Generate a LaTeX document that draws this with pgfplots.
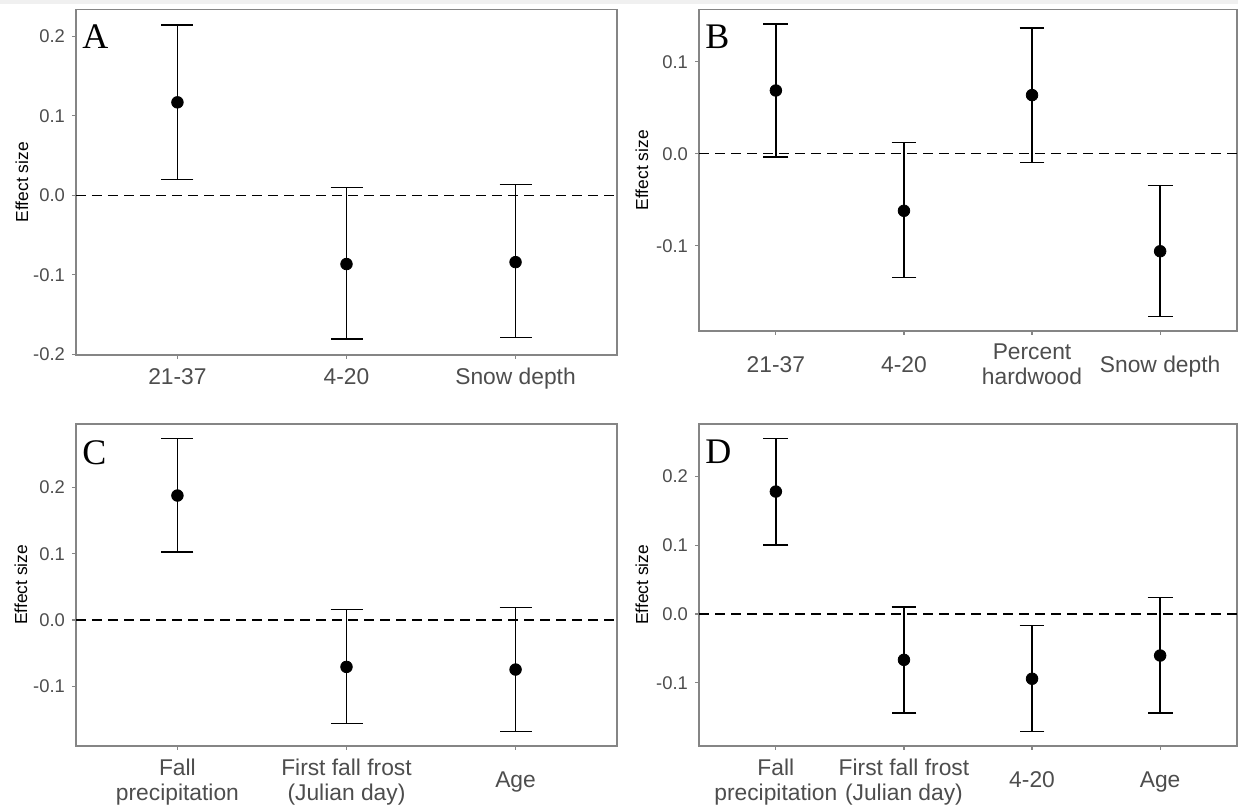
\documentclass[border=0pt]{standalone}
\usepackage{fontspec}
\setmainfont{Liberation Sans}
\newfontfamily\seriffont{Liberation Serif}
\usepackage{pgfplots}
\pgfplotsset{compat=1.18}
\usepackage{pgfplotstable}
\definecolor{bordergray}{HTML}{858585}
\definecolor{tickgray}{HTML}{4D4D4D}

\pgfplotstableread{
x y lo hi
1 0.117 0.020 0.214
2 -0.0864 -0.181 0.010
3 -0.084 -0.179 0.0138
}\dataA
\pgfplotstableread{
x y lo hi
1 0.0688 -0.0036 0.141
2 -0.062 -0.1344 0.0123
3 0.0638 -0.0094 0.137
4 -0.106 -0.1768 -0.0344
}\dataB
\pgfplotstableread{
x y lo hi
1 0.188 0.1025 0.274
2 -0.0709 -0.1563 0.0161
3 -0.0749 -0.1683 0.0191
}\dataC
\pgfplotstableread{
x y lo hi
1 0.178 0.100 0.255
2 -0.0668 -0.1437 0.0102
3 -0.0943 -0.1708 -0.0169
4 -0.0605 -0.1437 0.0237
}\dataD

\pgfplotsset{
  panel/.style={
    scale only axis, anchor=south west,
    axis line style={draw=bordergray, line width=0.6pt},
    tick style={draw=bordergray, line width=0.6pt},
    tick align=outside, major tick length=2pt, tick pos=left,
    minor tick num=0,
    yticklabel style={font=\fontsize{9.2}{10}\selectfont, text=tickgray},
    xticklabel style={font=\fontsize{11.4}{11.5}\selectfont, text=tickgray, align=center, anchor=center},
    ylabel={Effect size},
    ylabel style={font=\fontsize{8.7}{10}\selectfont, anchor=center},
  },
}
\tikzset{letter/.style={anchor=north west, inner sep=0pt, font=\seriffont\fontsize{18}{18}\selectfont}}
\newcommand{\ebars}[2]{%
  \addplot[black, line width=0.7pt, dash pattern=on 5pt off 3pt, forget plot] coordinates {(0.4,0) (#2,0)};
  \addplot[black, only marks, mark=*, mark size=2.9pt, mark options={fill=black, draw=black},
    error bars/y dir=both, error bars/y explicit,
    error bars/error mark=-,
    error bars/error bar style={line width=0.8pt, black},
    error bars/error mark options={rotate=90, black, line width=0.8pt, mark size=#1}]
    table[x=x, y=y, y error plus expr=\thisrow{hi}-\thisrow{y}, y error minus expr=\thisrow{y}-\thisrow{lo}]}

\begin{document}
\begin{tikzpicture}
\useasboundingbox (0,0) rectangle (619pt,403.5pt);
\fill[gray!12] (0,401.5pt) rectangle (619pt,403.5pt);

% Panel A
\begin{axis}[panel, at={(38pt,226pt)}, width=270.5pt, height=172.75pt,
  xmin=0.4, xmax=3.6, ymin=-0.2008, ymax=0.2338,
  xtick={1,2,3}, xticklabels={\strut 21-37, \strut 4-20, \strut Snow depth},
  xticklabel style={yshift=-10.5pt},
  ytick={-0.2,-0.1,0,0.1,0.2}, yticklabels={-0.2,-0.1,0.0,0.1,0.2},
  ylabel style={at={(axis description cs:-0.100,0.5)}}]
\ebars{8pt}{3.6}{\dataA};
\node[letter, xshift=3pt, yshift=-7.5pt] at (rel axis cs:0,1) {A};
\end{axis}

% Panel B
\begin{axis}[panel, at={(349.5pt,238pt)}, width=269pt, height=160.75pt,
  xmin=0.4, xmax=4.6, ymin=-0.1927, ymax=0.1569,
  xtick={1,2,3,4}, xticklabels={\strut 21-37, \strut 4-20, {\strut Percent\\\strut hardwood}, \strut Snow depth},
  xticklabel style={yshift=-16.3pt},
  ytick={-0.1,0,0.1}, yticklabels={-0.1,0.0,0.1},
  ylabel style={at={(axis description cs:-0.106,0.5)}}]
\ebars{6.2pt}{4.6}{\dataB};
\node[letter, xshift=3pt, yshift=-7.5pt] at (rel axis cs:0,1) {B};
\end{axis}

% Panel C
\begin{axis}[panel, at={(38pt,30.5pt)}, width=270.5pt, height=161pt,
  xmin=0.4, xmax=3.6, ymin=-0.1904, ymax=0.2961,
  xtick={1,2,3}, xticklabels={{\strut Fall\\\strut precipitation}, {\strut First fall frost\\\strut (Julian day)}, \strut Age},
  xticklabel style={yshift=-16.5pt},
  ytick={-0.1,0,0.1,0.2}, yticklabels={-0.1,0.0,0.1,0.2},
  ylabel style={at={(axis description cs:-0.102,0.5)}}]
\ebars{8pt}{3.6}{\dataC};
\node[letter, xshift=3pt, yshift=-8pt] at (rel axis cs:0,1) {C};
\end{axis}

% Panel D
\begin{axis}[panel, at={(349.5pt,30.5pt)}, width=269pt, height=161pt,
  xmin=0.4, xmax=4.6, ymin=-0.1921, ymax=0.2763,
  xtick={1,2,3,4}, xticklabels={{\strut Fall\\\strut precipitation}, {\strut First fall frost\\\strut (Julian day)}, \strut 4-20, \strut Age},
  xticklabel style={yshift=-16.5pt},
  ytick={-0.1,0,0.1,0.2}, yticklabels={-0.1,0.0,0.1,0.2},
  ylabel style={at={(axis description cs:-0.106,0.5)}}]
\ebars{6.2pt}{4.6}{\dataD};
\node[letter, xshift=3pt, yshift=-8pt] at (rel axis cs:0,1) {D};
\end{axis}
\end{tikzpicture}
\end{document}
